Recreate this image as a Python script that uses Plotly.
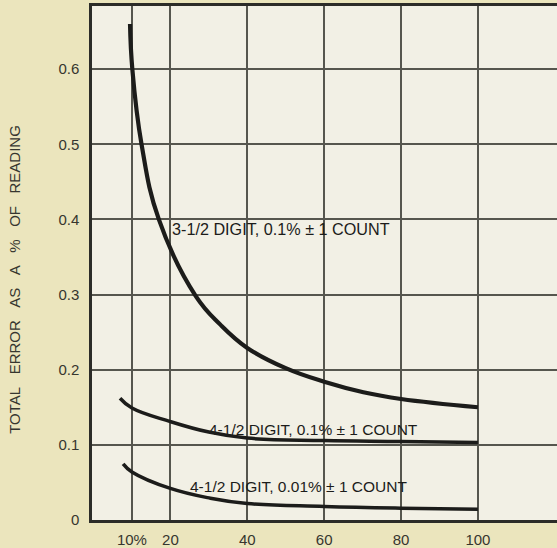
import plotly.graph_objects as go

# Percent of full-scale reading
x_35 = [9.5, 10.1, 12.5, 17.0, 26.6, 33.0, 40, 50, 60, 70.2, 80, 100]
# Total error (% of reading), 3-1/2 digit, 0.1% +/- 1 count
y_35 = [0.66, 0.60, 0.50, 0.40, 0.298, 0.26, 0.229, 0.202, 0.184, 0.17, 0.161, 0.15]

x_45a = [6.9, 10, 20, 30, 40, 60, 80, 100]
# 4-1/2 digit, 0.1% +/- 1 count
y_45a = [0.162, 0.149, 0.131, 0.117, 0.109, 0.1057, 0.1045, 0.103]

x_45b = [7.7, 10, 20, 30.4, 40, 60, 80, 100]
# 4-1/2 digit, 0.01% +/- 1 count
y_45b = [0.0747, 0.064, 0.042, 0.029, 0.022, 0.018, 0.0157, 0.0144]

x_ticks = [10, 20, 40, 60, 80, 100]
x_tick_text = ["10%", "20", "40", "60", "80", "100"]
y_ticks = [0, 0.1, 0.2, 0.3, 0.4, 0.5, 0.6]
y_tick_text = ["0", "0.1", "0.2", "0.3", "0.4", "0.5", "0.6"]

curve_labels = [
    "3-1/2 DIGIT, 0.1% ± 1 COUNT",
    "4-1/2 DIGIT, 0.1% ± 1 COUNT",
    "4-1/2 DIGIT, 0.01% ± 1 COUNT",
]
label_sizes = [16.2, 15.5, 15.5]

PAPER = "#ebe5bd"
PLOT = "#f2f0e5"
INK = "#1c1c1a"
GRID = "#56564e"
TEXT = "#36362f"
FONT = "Liberation Sans"

fig = go.Figure()
for xs, ys, w in [(x_35, y_35, 4.2), (x_45a, y_45a, 3.5), (x_45b, y_45b, 3.5)]:
    fig.add_trace(go.Scatter(
        x=xs, y=ys, mode="lines",
        line=dict(color=INK, width=w, shape="spline", smoothing=1.2),
        showlegend=False, hoverinfo="skip",
    ))

# label positions (data coords) and the blank patches that break the grid behind them
label_pos = [(48.8, 0.387), (57.2, 0.1205), (53.2, 0.0442)]
label_boxes = [(18.1, 79.0, 0.368, 0.411), (27.7, 86.2, 0.1096, 0.1333), (23.8, 82.9, 0.0324, 0.0638)]

for (x0, x1, y0, y1) in label_boxes:
    fig.add_shape(type="rect", x0=x0, x1=x1, y0=y0, y1=y1, xref="x", yref="y",
                  fillcolor=PLOT, line=dict(width=0), layer="below")

for text, (lx, ly), fs in zip(curve_labels, label_pos, label_sizes):
    fig.add_annotation(x=lx, y=ly, xref="x", yref="y", text=text, showarrow=False,
                       font=dict(family=FONT, size=fs, color=INK),
                       xanchor="center", yanchor="middle")

gap = "\u00a0\u00a0\u00a0"
fig.add_annotation(
    x=-0.167, y=0.468, xref="paper", yref="paper",
    text=gap.join(["TOTAL", "ERROR", "AS", "A", "%", "OF", "READING"]),
    textangle=-90, showarrow=False,
    font=dict(family=FONT, size=15, color=TEXT),
    xanchor="center", yanchor="middle",
)

fig.update_xaxes(
    range=[-0.39, 120.57], tickvals=x_ticks, ticktext=x_tick_text,
    showgrid=True, gridcolor=GRID, gridwidth=1.5,
    showline=True, linecolor="#2c2c28", linewidth=2.5, mirror=True,
    ticks="", zeroline=False, ticklabelstandoff=4,
    tickfont=dict(family=FONT, size=15, color=TEXT),
)
fig.update_yaxes(
    range=[0, 0.684], tickvals=y_ticks, ticktext=y_tick_text,
    showgrid=True, gridcolor=GRID, gridwidth=1.5,
    showline=True, linecolor="#2c2c28", linewidth=2.5, mirror=False,
    ticks="", zeroline=False, ticklabelstandoff=7,
    tickfont=dict(family=FONT, size=15, color=TEXT),
)

fig.update_layout(
    width=557, height=548,
    margin=dict(l=92, r=0, t=6, b=20),
    paper_bgcolor=PAPER, plot_bgcolor=PLOT,
    showlegend=False,
)

fig.write_html("out.html")
